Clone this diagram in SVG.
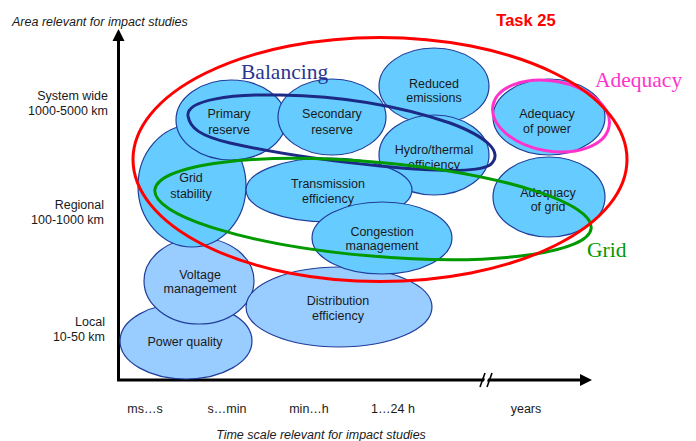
<svg xmlns="http://www.w3.org/2000/svg" width="696" height="441" viewBox="0 0 696 441">
<style>
.n ellipse{stroke:#1f3d99;stroke-width:1.2}
.d{fill:#66ccff}
.l{fill:#99ccff}
.t{font-family:"Liberation Sans",Arial,sans-serif;font-size:12.5px;fill:#1a1a1a;text-anchor:middle}
.ax{font-family:"Liberation Sans",Arial,sans-serif;font-size:12.5px;fill:#1a1a1a}
.r{text-anchor:end}
.m{text-anchor:middle}
.it{font-style:italic;font-size:12.5px}
.g{fill:none;stroke-width:3}
.lab{font-family:"Liberation Serif","Times New Roman",serif;font-size:21.5px}
</style>
<rect width="696" height="441" fill="#fff"/>
<g id="axes">
<line x1="118.5" y1="380" x2="118.5" y2="39" stroke="#000" stroke-width="3"/>
<polygon points="112.5,41 118.5,29 124.5,41" fill="#000"/>
<line x1="117" y1="380" x2="582" y2="380" stroke="#000" stroke-width="3"/>
<polygon points="580,374 592,380 580,386" fill="#000"/>
<polygon points="482,387 487,373 490,373 485,387" fill="#fff"/>
<line x1="480" y1="387" x2="485" y2="373" stroke="#000" stroke-width="1.6"/>
<line x1="487" y1="387" x2="492" y2="373" stroke="#000" stroke-width="1.6"/>
<text class="ax it" x="12" y="26">Area relevant for impact studies</text>
<text class="ax it m" x="321" y="438.5">Time scale relevant for impact studies</text>
<text class="ax r" x="108" y="100">System wide</text>
<text class="ax r" x="108" y="115">1000-5000 km</text>
<text class="ax r" x="104" y="209">Regional</text>
<text class="ax r" x="104" y="224">100-1000 km</text>
<text class="ax r" x="105" y="326">Local</text>
<text class="ax r" x="105" y="341">10-50 km</text>
<text class="ax m" x="145" y="413">ms…s</text>
<text class="ax m" x="227" y="413">s…min</text>
<text class="ax m" x="309" y="413">min…h</text>
<text class="ax m" x="393" y="413">1…24 h</text>
<text class="ax m" x="526" y="413">years</text>
</g>
<g id="node-power-quality" class="n"><ellipse class="l" cx="186" cy="341" rx="66" ry="38"/><text class="t" x="185" y="345.5">Power quality</text></g>
<g id="node-voltage-management" class="n"><ellipse class="l" cx="199" cy="281" rx="55" ry="43"/><text class="t" x="200" y="278.5">Voltage</text><text class="t" x="200" y="293">management</text></g>
<g id="node-distribution-efficiency" class="n"><ellipse class="l" cx="339" cy="307" rx="93" ry="40"/><text class="t" x="338" y="304.5">Distribution</text><text class="t" x="338" y="319.5">efficiency</text></g>
<g id="node-grid-stability" class="n"><ellipse class="d" cx="192" cy="186" rx="54" ry="61"/><text class="t" x="191" y="181.5">Grid</text><text class="t" x="191" y="197.5">stability</text></g>
<g id="node-primary-reserve" class="n"><ellipse class="d" cx="231" cy="120" rx="55" ry="40"/><text class="t" x="229" y="117.5">Primary</text><text class="t" x="229" y="133.5">reserve</text></g>
<g id="node-secondary-reserve" class="n"><ellipse class="d" cx="332" cy="117" rx="54" ry="38"/><text class="t" x="332" y="117.5">Secondary</text><text class="t" x="332" y="133.5">reserve</text></g>
<g id="node-reduced-emissions" class="n"><ellipse class="d" cx="434" cy="86" rx="55" ry="38"/><text class="t" x="434" y="87.5">Reduced</text><text class="t" x="434" y="101.5">emissions</text></g>
<g id="node-hydro-thermal" class="n"><ellipse class="d" cx="434" cy="155" rx="55" ry="40"/><text class="t" x="434" y="153.5">Hydro/thermal</text><text class="t" x="434" y="168.5">efficiency</text></g>
<g id="node-transmission-efficiency" class="n"><ellipse class="d" cx="329" cy="190" rx="83" ry="32"/><text class="t" x="328" y="187.5">Transmission</text><text class="t" x="328" y="202.5">efficiency</text></g>
<g id="node-congestion-management" class="n"><ellipse class="d" cx="382" cy="238" rx="70" ry="36"/><text class="t" x="382" y="235.5">Congestion</text><text class="t" x="382" y="249.5">management</text></g>
<g id="node-adequacy-power" class="n"><ellipse class="d" cx="549" cy="117" rx="56" ry="38"/><text class="t" x="547" y="117.5">Adequacy</text><text class="t" x="547" y="132.5">of power</text></g>
<g id="node-adequacy-grid" class="n"><ellipse class="d" cx="549" cy="197" rx="56" ry="40"/><text class="t" x="548" y="196.5">Adequacy</text><text class="t" x="548" y="210.5">of grid</text></g>
<g id="groups">
<path class="g" d="M188,116 C186,100 230,94 280,95 C340,96 400,106 450,123 C485,136 505,152 490,165 C475,174 420,170 380,166 C320,160 270,152 230,143 C200,136 190,128 188,116 Z" stroke="#1c2a85"/>
<ellipse class="g" cx="373" cy="209" rx="219" ry="47" transform="rotate(5 373 209)" stroke="#009900"/>
<ellipse class="g" cx="551" cy="116" rx="59" ry="35" transform="rotate(10 551 116)" stroke="#ff33cc"/>
<ellipse class="g" cx="380" cy="159.5" rx="247" ry="122" stroke="#ff0000"/>
<text x="526" y="26" font-family="Liberation Sans,Arial,sans-serif" font-size="16.5" font-weight="bold" fill="#ff0000" text-anchor="middle">Task 25</text>
<text class="lab" x="241" y="79" fill="#2a3590">Balancing</text>
<text class="lab" x="595" y="87" fill="#ff33cc">Adequacy</text>
<text class="lab" x="587" y="257" fill="#009900">Grid</text>
</g>
</svg>
